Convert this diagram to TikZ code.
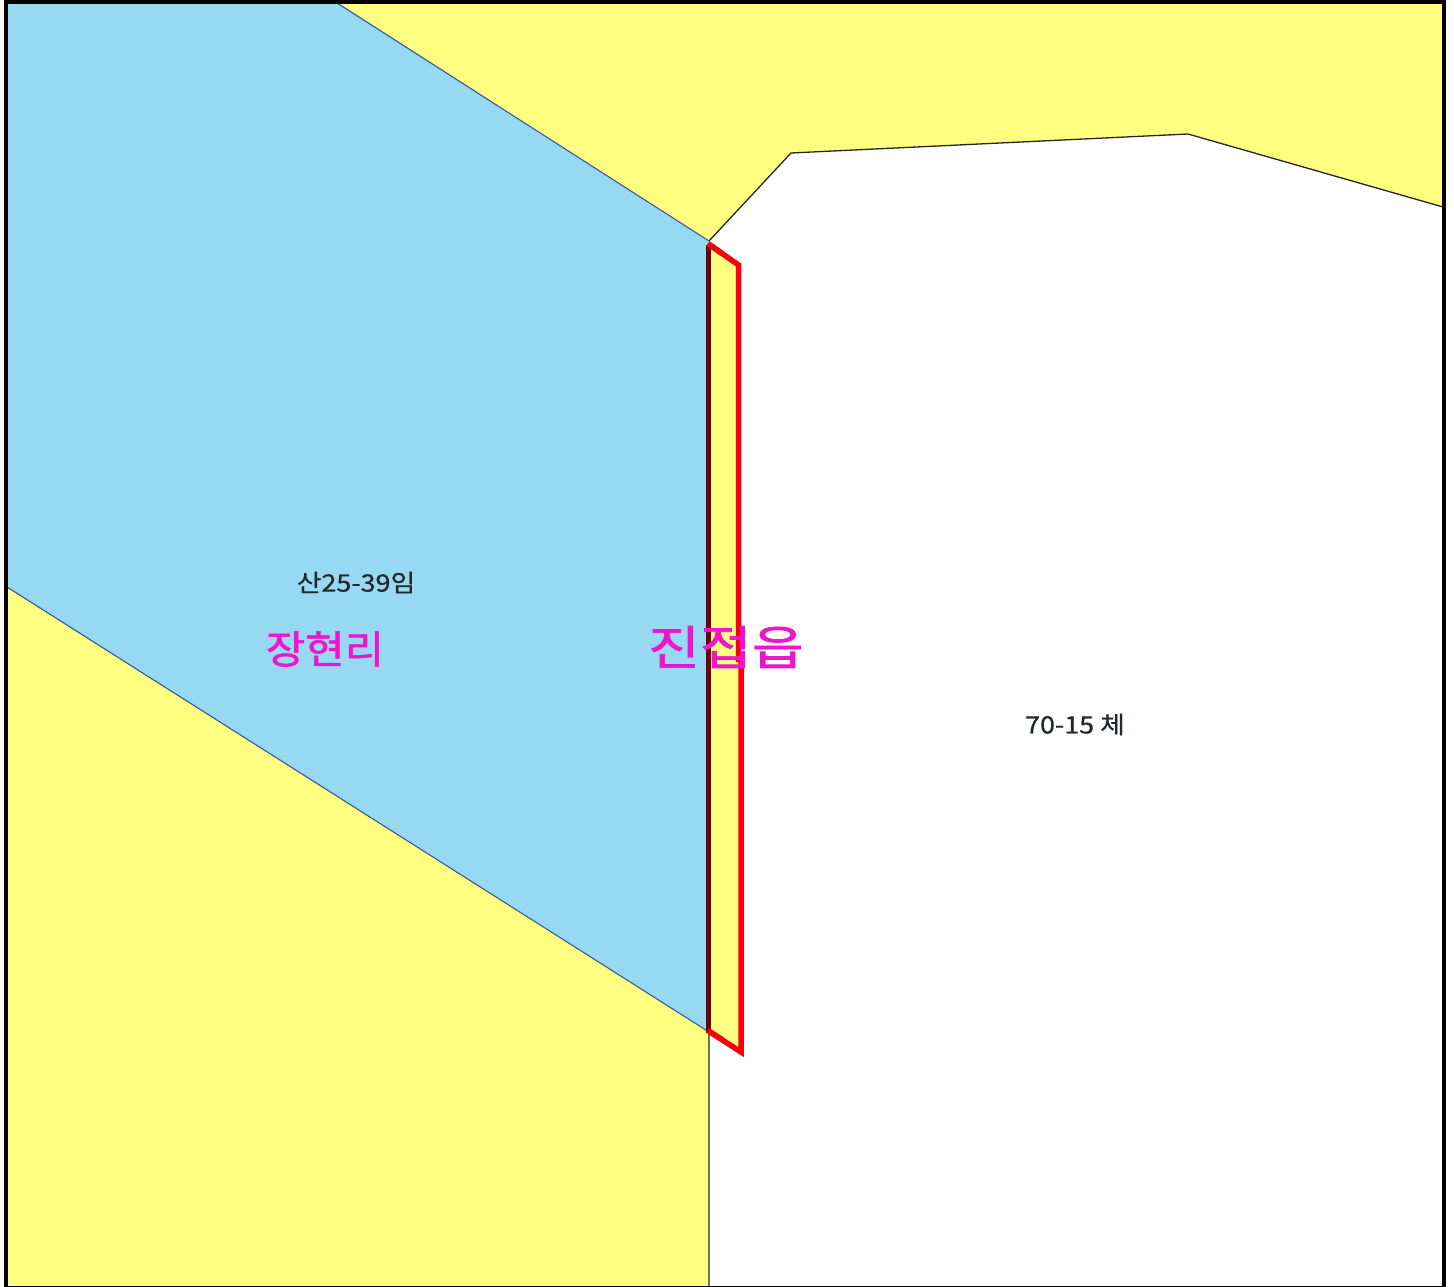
\documentclass[tikz,border=0pt]{standalone}
\usepackage{fontspec}
\newfontfamily\krbold[FakeBold=0.6]{Noto Sans CJK KR}
\newfontfamily\krheavy[FakeBold=1.4]{Noto Sans CJK KR}
\definecolor{parcelyellow}{RGB}{255,255,128}
\definecolor{parcelblue}{RGB}{151,217,242}
\definecolor{labelmagenta}{RGB}{240,20,205}
\definecolor{boundred}{RGB}{250,0,15}
\definecolor{stripdark}{RGB}{110,0,10}
\definecolor{textdark}{RGB}{35,40,45}
\definecolor{edgeblue}{RGB}{60,90,150}
\tikzset{
  thinline/.style={draw=black!85,line width=1.3pt},
  blueline/.style={draw=edgeblue,line width=1.1pt},
  smalltext/.style={font=\krbold\fontsize{24}{24}\selectfont,text=textdark,inner sep=0pt,transform shape,xscale=1.12},
  bigtext/.style={font=\krheavy\fontsize{39}{39}\selectfont,text=labelmagenta,inner sep=0pt,transform shape,xscale=1.1},
  widetext/.style={font=\krheavy\fontsize{47}{47}\selectfont,text=labelmagenta,inner sep=0pt,transform shape,xscale=1.2}
}
\begin{document}
\begin{tikzpicture}[x=1pt,y=-1pt]
\useasboundingbox (0,0) rectangle (1454,1287);
\fill[white] (0,0) rectangle (1454,1287);
% ground
\fill[parcelyellow] (6,2) rectangle (1444,1287);
% white parcel
\fill[white] (709,241) -- (791,153) -- (1188,134) -- (1444,207) -- (1444,1287) -- (709,1287) -- cycle;
\draw[thinline] (709,1287) -- (709,241) -- (791,153) -- (1188,134) -- (1443,207);
% blue parcel
\fill[parcelblue] (6,2) -- (337,2) -- (709,241) -- (709,1032) -- (6,587) -- cycle;
\draw[blueline] (337,3) -- (709,241);
\draw[blueline] (7,587) -- (709,1032);
% red strip
\fill[parcelyellow] (709,243) -- (739,265) -- (739,660) -- (741.5,660) -- (741.5,1053) -- (709,1032) -- cycle;
\draw[draw=boundred,line width=5.5pt,line join=miter] (710,245) -- (738.5,265) -- (738.5,662) (741,660) -- (741,1052) -- (710,1032);
\draw[stripdark,line width=5pt] (708.5,245) -- (708.5,1033);
\draw[draw=boundred,line width=5.5pt] (708,243.5) -- (722,253.5);
\draw[draw=boundred,line width=5.5pt] (708,1030.5) -- (722,1039.5);
% frame
\draw[black,line width=4pt] (6,1287) -- (6,2) -- (1443.5,2) -- (1443.5,1287);
\draw[black,line width=1pt] (4,1286.5) -- (1446,1286.5);
% labels
\node[smalltext] (lotA) at (356,582.5) {산25-39임};
\node[smalltext] (lotB) at (1075,724.5) {70-15 체};
\node[bigtext] (villageA) at (325,649) {장현리};
\node[widetext] (villageB) at (726,647) {진접읍};
\end{tikzpicture}
\end{document}
